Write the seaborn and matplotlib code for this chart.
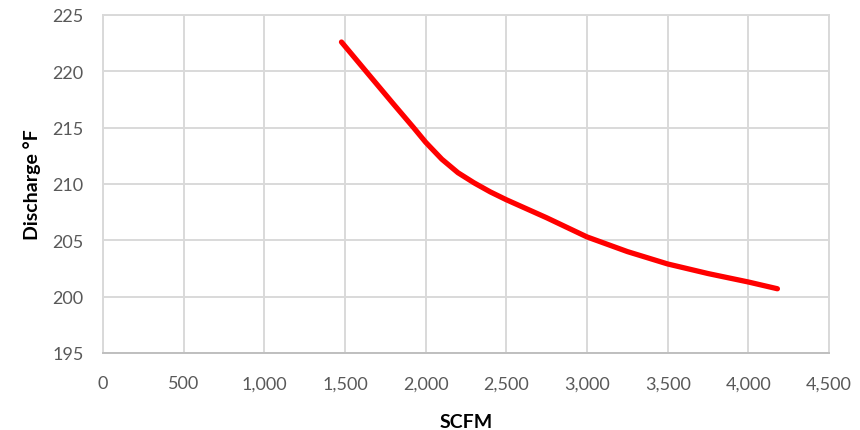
import matplotlib
matplotlib.use("Agg")
import matplotlib.pyplot as plt
import matplotlib.ticker as mticker
import pandas as pd
import seaborn as sns

# values
scfm = [1478, 1630, 1800, 1925, 2000, 2100, 2200, 2300, 2400, 2500, 2750, 3000, 3250, 3500, 3750, 4000, 4180]
discharge = [222.6, 220.0, 217.1, 215.0, 213.7, 212.2, 211.0, 210.1, 209.3, 208.6, 207.0, 205.3, 204.0, 202.9, 202.05, 201.3, 200.7]

df = pd.DataFrame({"SCFM": scfm, "Discharge": discharge})

sns.set_theme(style="white")
plt.rcParams['font.family'] = ['Lato', 'DejaVu Sans']

fig = plt.figure(figsize=(8.6, 4.31), dpi=100)
ax = fig.add_axes([0.1198, 0.1787, 0.8442, 0.7842])

sns.lineplot(data=df, x="SCFM", y="Discharge", color="#ff0000", linewidth=3.8,
             solid_capstyle="round", solid_joinstyle="round", ax=ax)

ax.set_xlim(0, 4500)
ax.set_ylim(195, 225)
ax.set_xticks(range(0, 4501, 500))
ax.set_yticks(range(195, 226, 5))
ax.xaxis.set_major_formatter(mticker.FuncFormatter(lambda v, p: f"{int(v):,}"))
ax.grid(True, color="#d9d9d9", linewidth=1.4)
ax.set_axisbelow(True)
for s in ax.spines.values():
    s.set_color("#d9d9d9")
    s.set_linewidth(1.4)
ax.spines["bottom"].set_color("#bfbfbf")
ax.tick_params(length=0, labelsize=13, labelcolor="#595959")
ax.tick_params(axis="x", pad=16)
ax.tick_params(axis="y", pad=14)

ax.set_xlabel("SCFM", fontsize=14, fontweight="bold", color="black", labelpad=16)
ax.set_ylabel("Discharge °F", fontsize=14, fontweight="bold", color="black", labelpad=8)

fig.savefig("out.png", dpi=100)
